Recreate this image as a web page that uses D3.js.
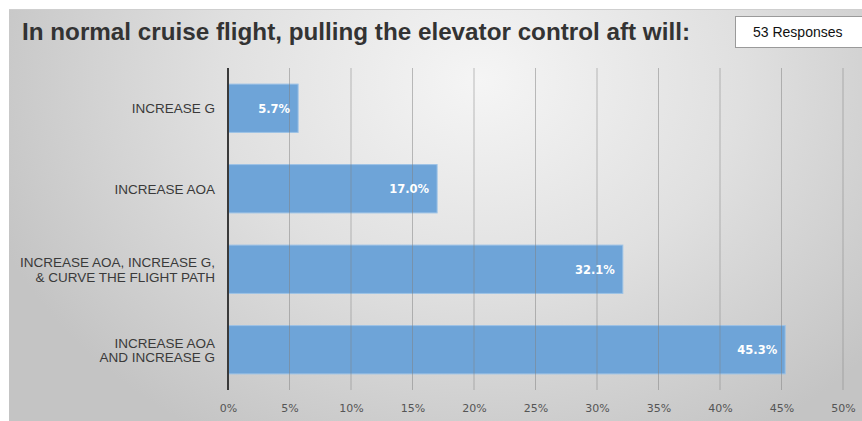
<!DOCTYPE html>
<html><head><meta charset="utf-8">
<script src="https://cdn.jsdelivr.net/npm/d3@7/dist/d3.min.js"></script>
<style>html,body{margin:0;padding:0;background:#fff;}svg{display:block;}</style>
</head><body>
<script>
const categories = [
  ["INCREASE G"],
  ["INCREASE AOA"],
  ["INCREASE AOA, INCREASE G,", "& CURVE THE FLIGHT PATH"],
  ["INCREASE AOA", "AND INCREASE G"]
];
const values = [5.7, 17.0, 32.1, 45.3];
const tickValues = [0,5,10,15,20,25,30,35,40,45,50];
const titleText = "In normal cruise flight, pulling the elevator control aft will:";
const responsesText = "53 Responses";

const W = 862, H = 421;
const svg = d3.select("body").append("svg").attr("width", W).attr("height", H);
const defs = svg.append("defs");
const rg = defs.append("radialGradient").attr("id","bg")
  .attr("gradientUnits","userSpaceOnUse").attr("cx",480).attr("cy",80).attr("r",520)
  .attr("gradientTransform","translate(480,80) scale(1,0.8) translate(-480,-80)");
rg.append("stop").attr("offset","0").attr("stop-color","#f5f5f5");
rg.append("stop").attr("offset","0.5").attr("stop-color","#e0e0e0");
rg.append("stop").attr("offset","1").attr("stop-color","#c4c4c4");

svg.append("rect").attr("x",9).attr("y",9).attr("width",W).attr("height",H).attr("fill","url(#bg)");
svg.append("line").attr("x1",9).attr("x2",W).attr("y1",9.5).attr("y2",9.5).attr("stroke","#cfcfcf");

svg.append("text").attr("x",22).attr("y",40).text(titleText)
  .attr("font-family","Liberation Sans, Arial, sans-serif").attr("font-weight","bold")
  .attr("font-size",24).attr("fill","#333")
  .attr("textLength",668).attr("lengthAdjust","spacingAndGlyphs");

svg.append("rect").attr("x",735.5).attr("y",16.5).attr("width",140).attr("height",31)
  .attr("fill","#fff").attr("stroke","#9a9a9a");
svg.append("text").attr("x",753).attr("y",37).text(responsesText)
  .attr("font-family","Liberation Sans, Arial, sans-serif").attr("font-size",14).attr("fill","#111");

const x = d3.scaleLinear().domain([0,50]).range([228,843]);
const y = d3.scaleBand().domain(d3.range(categories.length)).range([68,390]).paddingInner(0.4).paddingOuter(0.2);

const g = svg.append("g");
g.selectAll("rect.bar").data(values).join("rect").attr("class","bar")
  .attr("x", x(0)).attr("y",(d,i)=>y(i)).attr("width",d=>x(d)-x(0)).attr("height",y.bandwidth())
  .attr("fill","#6ea4d8").attr("stroke","#9cc2e6").attr("stroke-width",1);
g.selectAll("line.grid").data(tickValues.slice(1)).join("line").attr("class","grid")
  .attr("x1",d=>x(d)).attr("x2",d=>x(d)).attr("y1",68).attr("y2",390)
  .attr("stroke","#808080").attr("stroke-opacity",0.5).attr("stroke-width",1);
g.append("line").attr("x1",x(0)).attr("x2",x(0)).attr("y1",68).attr("y2",390)
  .attr("stroke","#3a3a3a").attr("stroke-width",2);

const xAxis = d3.axisBottom(x).tickValues(tickValues).tickFormat(d=>d+"%").tickSize(0).tickPadding(0);
const ax = svg.append("g").attr("transform","translate(0,412)").call(xAxis);
ax.select(".domain").remove();
ax.selectAll("text").attr("font-family","DejaVu Sans, sans-serif").attr("font-size",11).attr("fill","#555").attr("dy","0");

const lab = svg.append("g").selectAll("text").data(categories).join("text")
  .attr("text-anchor","end").attr("font-family","Liberation Sans, Arial, sans-serif")
  .attr("font-size",13.5).attr("fill","#3a3a3a");
lab.each(function(d,i){
  const t = d3.select(this);
  const cy = y(i)+y.bandwidth()/2;
  const lh = 14.5;
  d.forEach((line,k)=>{
    t.append("tspan").attr("x",215).attr("y", cy + (k-(d.length-1)/2)*lh + 5).text(line);
  });
});

svg.append("g").selectAll("text").data(values).join("text")
  .attr("x",d=>x(d)-8).attr("y",(d,i)=>y(i)+y.bandwidth()/2+4.5)
  .attr("text-anchor","end").attr("font-family","DejaVu Sans, sans-serif").attr("font-weight","bold")
  .attr("font-size",11.5).attr("fill","#fff").text(d=>d.toFixed(1)+"%");
</script>
</body></html>
